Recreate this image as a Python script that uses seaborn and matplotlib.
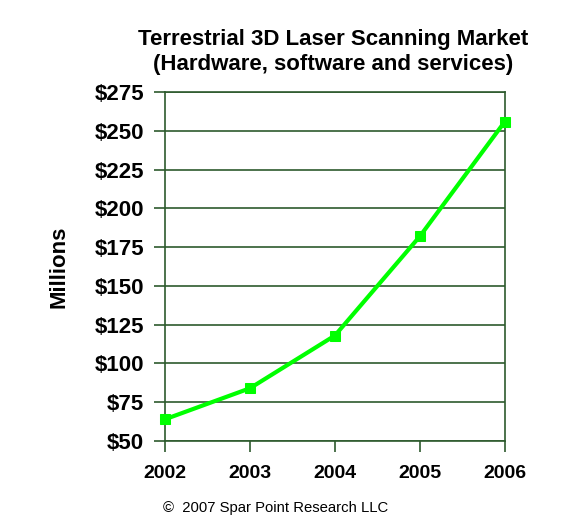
import matplotlib
matplotlib.use('Agg')
import matplotlib.pyplot as plt
import seaborn as sns
import pandas as pd

years = [2002, 2003, 2004, 2005, 2006]
revenue = [64, 84, 118, 182, 256]
yticks = [50, 75, 100, 125, 150, 175, 200, 225, 250, 275]

df = pd.DataFrame({'year': years, 'revenue': revenue})

sns.set_style('white')
plt.rcParams['font.family'] = ['Liberation Sans', 'DejaVu Sans']
plt.rcParams['text.color'] = 'black'
plt.rcParams['xtick.color'] = 'black'
plt.rcParams['ytick.color'] = 'black'
plt.rcParams['axes.labelcolor'] = 'black'

grid_col = '#2d5a2d'
fig = plt.figure(figsize=(5.87, 5.31), dpi=100)
ax = fig.add_axes([0.281, 0.1695, 0.579, 0.657])

sns.lineplot(data=df, x='year', y='revenue', ax=ax, color='#00ff00',
             linewidth=3, marker='s', markersize=7, markeredgecolor='#00ff00',
             clip_on=False, zorder=5)

ax.set_xlim(2002, 2006)
ax.set_ylim(50, 275)
ax.set_xticks(years)
ax.set_yticks(yticks)
ax.set_yticklabels([f'${v}' for v in yticks])
for s in ax.spines.values():
    s.set_color(grid_col)
    s.set_linewidth(1.2)
ax.yaxis.grid(True, color=grid_col, linewidth=1.2)
ax.set_axisbelow(True)
ax.tick_params(axis='y', direction='out', length=8, width=1.2, color=grid_col,
               labelcolor='black', labelsize=16, pad=7, left=True)
ax.tick_params(axis='x', direction='out', length=8, width=1.2, color=grid_col,
               labelcolor='black', labelsize=14, pad=9, bottom=True)
for lab in ax.get_xticklabels() + ax.get_yticklabels():
    lab.set_fontweight('bold')
ax.set_xlabel('')
ax.set_ylabel('Millions', fontsize=16, fontweight='bold', labelpad=18, color='black')

fig.text(0.567, 0.902, 'Terrestrial 3D Laser Scanning Market\n(Hardware, software and services)',
         ha='center', va='center', fontsize=16, fontweight='bold', linespacing=1.2,
         color='black')
fig.text(0.469, 0.043, '\u00a9  2007 Spar Point Research LLC', ha='center', va='center',
         fontsize=10.7, color='black')

fig.savefig('out.png', dpi=100)
